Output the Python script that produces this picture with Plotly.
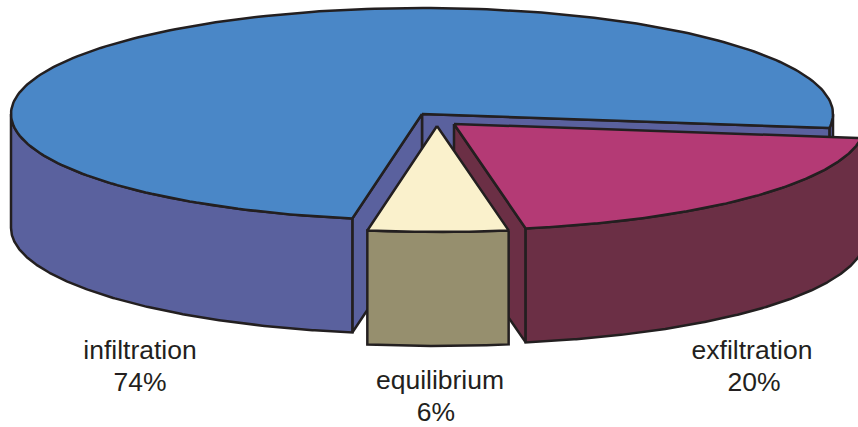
import numpy as np
import plotly.graph_objects as go

# Slices, drawn clockwise from the start angle (shares)
LABELS = ["exfiltration", "equilibrium", "infiltration"]
SHARES = [20.1, 5.5, 74.4]

# Constants
WIDTH = 858
HEIGHT = 427
START_ANGLE = 7.6
RADIUS_X = 411
RADIUS_Y = 106
DEPTH = 114
OUTLINE = "#231F20"
OUTLINE_WIDTH = 2.5
FONT_FAMILY = "Liberation Sans, Arial, sans-serif"
FONT_SIZE = 26.5
FONT_COLOR = "#231F20"

# apex of each slice, exploded slices sit away from the main one
APEX = {
    "exfiltration": (454, 124),
    "equilibrium": (437, 126),
    "infiltration": (422, 114),
}
TOP_COLOR = {
    "exfiltration": "#B43A75",
    "equilibrium": "#FAF1CC",
    "infiltration": "#4A87C7",
}
SIDE_COLOR = {
    "exfiltration": "#6B2F45",
    "equilibrium": "#968F6E",
    "infiltration": "#5A619E",
}
LABEL_POS = {
    "exfiltration": ((752, 352.5), (754, 384.5)),
    "equilibrium": ((440, 382.5), (436, 414.5)),
    "infiltration": ((140, 352.5), (140, 384.5)),
}


def rim(apex, a0, a1, depth=0):
    """Points on the ellipse rim between two angles, y pointing down."""
    t = np.radians(np.linspace(a0, a1, 240))
    return apex[0] + RADIUS_X * np.cos(t), apex[1] + RADIUS_Y * np.sin(t) + depth


def add_poly(fig, x, y, color):
    fig.add_trace(
        go.Scatter(
            x=np.append(x, x[0]),
            y=np.append(y, y[0]),
            mode="lines",
            fill="toself",
            fillcolor=color,
            line=dict(color=OUTLINE, width=OUTLINE_WIDTH, shape="linear"),
            hoverinfo="skip",
            showlegend=False,
        )
    )


def add_outer_wall(fig, apex, a0, a1, color):
    x0, y0 = rim(apex, a0, a1)
    x1, y1 = rim(apex, a1, a0, DEPTH)
    add_poly(fig, np.concatenate([x0, x1]), np.concatenate([y0, y1]), color)


def add_cut_wall(fig, apex, angle, color):
    x, y = rim(apex, angle, angle)
    add_poly(
        fig,
        np.array([apex[0], x[0], x[0], apex[0]]),
        np.array([apex[1], y[0], y[0] + DEPTH, apex[1] + DEPTH]),
        color,
    )


def add_top(fig, apex, a0, a1, color):
    x, y = rim(apex, a0, a1)
    add_poly(fig, np.concatenate([[apex[0]], x]), np.concatenate([[apex[1]], y]), color)


# angle span of each slice from the shares
spans = {}
angle = START_ANGLE
for label, share in zip(LABELS, SHARES):
    spans[label] = (angle, angle + share * 3.6)
    angle += share * 3.6

fig = go.Figure()

# main slice first, the exploded ones paint over it
a0, a1 = spans["infiltration"]
apex = APEX["infiltration"]
side = SIDE_COLOR["infiltration"]
add_outer_wall(fig, apex, 0, a1 - 360, side)
add_cut_wall(fig, apex, a1 - 360, side)
add_cut_wall(fig, apex, a0, side)
add_outer_wall(fig, apex, a0, 180, side)
add_top(fig, apex, a0, a1, TOP_COLOR["infiltration"])

a0, a1 = spans["exfiltration"]
apex = APEX["exfiltration"]
side = SIDE_COLOR["exfiltration"]
add_cut_wall(fig, apex, a1, side)
add_outer_wall(fig, apex, a0, a1, side)
add_top(fig, apex, a0, a1, TOP_COLOR["exfiltration"])

a0, a1 = spans["equilibrium"]
apex = APEX["equilibrium"]
add_outer_wall(fig, apex, a0, a1, SIDE_COLOR["equilibrium"])
add_top(fig, apex, a0, a1, TOP_COLOR["equilibrium"])

for label, share in zip(LABELS, SHARES):
    name_pos, pct_pos = LABEL_POS[label]
    fig.add_trace(
        go.Scatter(
            x=[name_pos[0], pct_pos[0]],
            y=[name_pos[1], pct_pos[1]],
            mode="text",
            text=[label, f"{round(share)}%"],
            textposition="middle center",
            textfont=dict(family=FONT_FAMILY, size=FONT_SIZE, color=FONT_COLOR),
            hoverinfo="skip",
            showlegend=False,
        )
    )

fig.update_xaxes(range=[0, WIDTH], visible=False, fixedrange=True)
fig.update_yaxes(range=[HEIGHT, 0], visible=False, fixedrange=True)
fig.update_layout(
    width=WIDTH,
    height=HEIGHT,
    margin=dict(l=0, r=0, t=0, b=0),
    paper_bgcolor="white",
    plot_bgcolor="white",
    showlegend=False,
)
# the browser's default body margin would shift the chart by 8px
fig.write_html(
    "out.html",
    config=dict(displayModeBar=False),
    post_script="document.body.style.margin = '0'; document.body.style.overflow = 'hidden';",
)
